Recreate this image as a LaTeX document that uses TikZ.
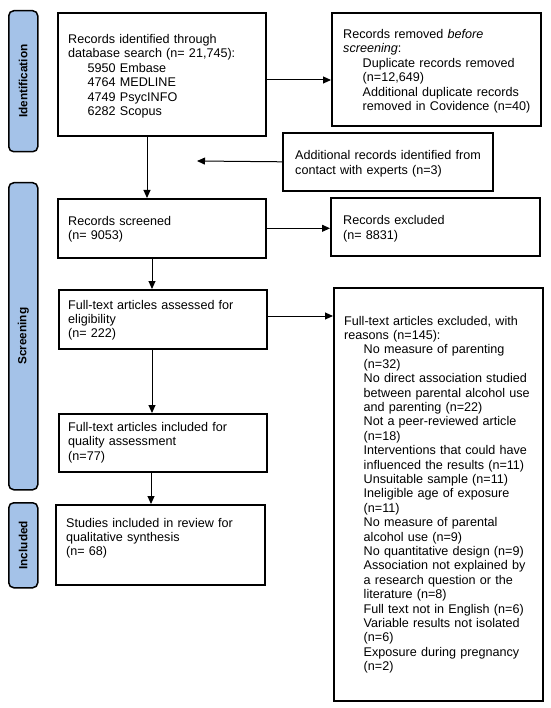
\documentclass[tikz,border=0pt]{standalone}
\usepackage{fontspec}
\setmainfont{Liberation Sans}
\usetikzlibrary{arrows.meta,calc}
\definecolor{sidefill}{HTML}{A4C2E8}
\newlength{\ind}
\setlength{\ind}{19.5pt}
\newcommand{\ii}{\hspace*{\ind}}
\begin{document}
\begin{tikzpicture}[x=1pt,y=-1pt,
  boxstyle/.style={draw, line width=1.6pt, inner sep=0pt, anchor=north west},
  txt/.style={anchor=base west, inner sep=0pt, align=left, text width=200pt,
    font=\fontsize{12.6}{14.4}\selectfont},
  side/.style={draw, line width=1.5pt, fill=sidefill, rounded corners=5pt, inner sep=0pt, anchor=north west},
  sidetxt/.style={rotate=90, font=\fontsize{11.8}{13}\selectfont\bfseries, inner sep=0pt},
  arr/.style={line width=1pt, -{Triangle[length=8pt,width=7pt]}}]
\useasboundingbox (0,0) rectangle (550,708);
\fill[white] (0,0) rectangle (550,708);
% side labels
\node[side, minimum width=29pt, minimum height=141pt] (sid) at (8,10) {};
\node[sidetxt] (sidt) at (sid.center) {Identification};
\node[side, minimum width=29pt, minimum height=307pt] (sscr) at (8,182) {};
\node[sidetxt] (sscrt) at (sscr.center) {Screening};
\node[side, minimum width=29pt, minimum height=85pt] (sinc) at (8,502) {};
\node[sidetxt] (sinct) at (sinc.center) {Included};
% boxes
\node[boxstyle, minimum width=208pt, minimum height=123pt] (b1) at (57,12) {};
\node[txt] (b1t) at (68,43.5) {Records identified through\\database search (n= 21,745):\\\ii 5950 Embase\\\ii 4764 MEDLINE\\\ii 4749 PsycINFO\\\ii 6282 Scopus};
\node[boxstyle, minimum width=209pt, minimum height=113pt] (rem) at (331,12) {};
\node[txt] (remt) at (343,38.5) {Records removed \textit{before}\\\textit{screening}:\\\ii Duplicate records removed\\\ii (n=12,649)\\\ii Additional duplicate records\\\ii removed in Covidence (n=40)};
\node[boxstyle, minimum width=210pt, minimum height=58pt] (add) at (282,132) {};
\node[txt] (addt) at (295,160) {Additional records identified from\\contact with experts (n=3)};
\node[boxstyle, minimum width=208pt, minimum height=59pt] (scr) at (57,198) {};
\node[txt] (scrt) at (68,225.5) {Records screened\\(n= 9053)};
\node[boxstyle, minimum width=209pt, minimum height=58pt] (exc) at (330,197) {};
\node[txt] (exct) at (343,225) {Records excluded\\(n= 8831)};
\node[boxstyle, minimum width=208pt, minimum height=59pt] (fta) at (58,289) {};
\node[txt] (ftat) at (68,309) {Full-text articles assessed for\\eligibility\\(n= 222)};
\node[boxstyle, minimum width=209pt, minimum height=413pt] (ftx) at (333,287) {};
\node[txt] (ftxt) at (344,325) {Full-text articles excluded, with\\reasons (n=145):\\
\ii No measure of parenting\\\ii (n=32)\\
\ii No direct association studied\\\ii between parental alcohol use\\\ii and parenting (n=22)\\
\ii Not a peer-reviewed article\\\ii (n=18)\\
\ii Interventions that could have\\\ii influenced the results (n=11)\\
\ii Unsuitable sample (n=11)\\
\ii Ineligible age of exposure\\\ii (n=11)\\
\ii No measure of parental\\\ii alcohol use (n=9)\\
\ii No quantitative design (n=9)\\
\ii Association not explained by\\\ii a research question or the\\\ii literature (n=8)\\
\ii Full text not in English (n=6)\\
\ii Variable results not isolated\\\ii (n=6)\\
\ii Exposure during pregnancy\\\ii (n=2)};
\node[boxstyle, minimum width=208pt, minimum height=58pt] (qual) at (58,413) {};
\node[txt] (qualt) at (68,431.5) {Full-text articles included for\\quality assessment\\(n=77)};
\node[boxstyle, minimum width=209pt, minimum height=80pt] (inc) at (55,504) {};
\node[txt] (inct) at (66,527) {Studies included in review for\\qualitative synthesis\\(n= 68)};
% connectors
\coordinate (c1) at (147,0);
\coordinate (c2) at (152,0);
\coordinate (c3) at (151,0);
\coordinate (r1) at (0,80);
\coordinate (r2) at (0,316);
\coordinate (ae) at (197,161);
\draw[arr] (c1 |- b1.south) -- (c1 |- scr.north);
\draw[arr] (r1 -| b1.east) -- (r1 -| rem.west);
\draw[arr] (add.west) -- (ae);
\draw[arr] (scr.east) -- (scr.east -| exc.west);
\draw[arr] (c2 |- scr.south) -- (c2 |- fta.north);
\draw[arr] (r2 -| fta.east) -- (r2 -| ftx.west);
\draw[arr] (c2 |- fta.south) -- (c2 |- qual.north);
\draw[arr] (c3 |- qual.south) -- (c3 |- inc.north);
\end{tikzpicture}
\end{document}
